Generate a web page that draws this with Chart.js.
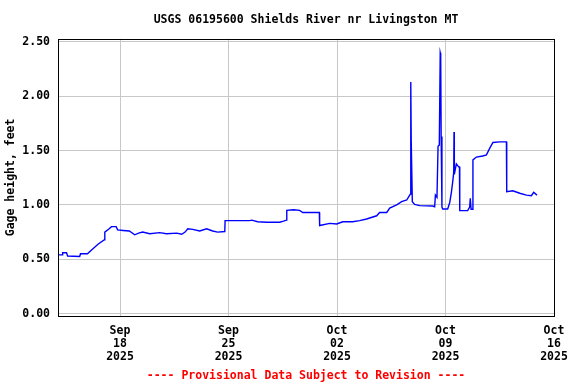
<!DOCTYPE html>
<html>
<head>
<meta charset="utf-8">
<script src="https://cdn.jsdelivr.net/npm/chart.js@4/dist/chart.umd.min.js"></script>
<style>
html,body{margin:0;padding:0;background:#fff;}
canvas{display:block;}
</style>
</head>
<body>
<canvas id="c" width="576" height="384"></canvas>
<script>
// Days since 2025-09-14 00:00 (local station time)
const dayOffsets = [
 0.00,0.28,0.30,0.55,0.62,1.40,1.45,1.90,2.20,2.60,3.00,3.02,3.30,3.45,3.75,3.85,4.20,4.60,4.95,5.20,
 5.46,5.92,6.56,7.00,7.66,7.98,8.20,8.37,8.69,9.14,9.59,9.98,10.30,10.76,10.78,12.37,12.50,12.88,13.47,14.30,
 14.55,14.74,14.76,15.20,15.59,15.79,16.86,16.88,17.53,17.98,18.37,19.01,19.46,19.91,20.56,20.75,21.21,21.40,21.85,22.17,
 22.50,22.69,22.74,22.76,22.79,22.82,22.86,23.01,23.34,24.17,24.30,24.35,24.45,24.52,24.60,24.66,24.69,24.72,24.77,24.82,
 25.14,25.27,25.38,25.48,25.53,25.55,25.57,25.70,25.85,25.90,25.92,26.43,26.56,26.60,26.65,26.71,26.77,26.99,27.40,27.64,
 27.85,28.06,28.50,28.93,28.95,29.34,29.79,30.22,30.54,30.69,30.90
];
const gageHeight = [
 0.54,0.54,0.56,0.56,0.53,0.525,0.55,0.55,0.59,0.64,0.68,0.75,0.78,0.80,0.80,0.77,0.765,0.76,0.725,0.74,
 0.75,0.735,0.745,0.735,0.74,0.73,0.75,0.78,0.775,0.76,0.78,0.76,0.75,0.755,0.855,0.855,0.86,0.845,0.84,0.84,
 0.85,0.86,0.95,0.955,0.95,0.93,0.93,0.81,0.83,0.825,0.845,0.845,0.855,0.87,0.90,0.93,0.93,0.97,1.00,1.03,
 1.045,1.09,1.10,2.13,1.58,1.58,1.03,1.005,0.993,0.99,0.983,1.09,1.07,1.54,1.55,2.40,2.38,1.63,0.98,0.962,
 0.962,1.02,1.116,1.23,1.30,1.67,1.28,1.377,1.35,1.35,0.947,0.947,0.98,1.06,0.96,0.96,1.414,1.44,1.45,1.46,
 1.52,1.574,1.58,1.58,1.122,1.13,1.107,1.09,1.085,1.116,1.09
];
const xTickDays = [4, 11, 18, 25, 32];
const xTickLabels = [["Sep","18","2025"],["Sep","25","2025"],["Oct","02","2025"],["Oct","09","2025"],["Oct","16","2025"]];
const yTicks = [0, 0.5, 1.0, 1.5, 2.0, 2.5];

const FONT = "'DejaVu Sans Mono', 'Liberation Mono', monospace";

const frame = {
  id: 'frame',
  afterDatasetsDraw(chart) {
    const a = chart.chartArea, ctx = chart.ctx;
    const l = Math.round(a.left) + 0.5, t = Math.round(a.top) + 0.5;
    const r = Math.round(a.right) + 0.5, b = Math.round(a.bottom) + 0.5;
    ctx.save();
    ctx.strokeStyle = '#000';
    ctx.lineWidth = 1;
    ctx.strokeRect(l, t, r - l, b - t);
    ctx.restore();
  }
};

new Chart(document.getElementById('c'), {
  type: 'line',
  data: {
    datasets: [{
      data: dayOffsets.map((d, i) => ({x: d, y: gageHeight[i]})),
      borderColor: '#0000ff',
      borderWidth: 1.4,
      pointRadius: 0,
      tension: 0,
      fill: false
    }]
  },
  options: {
    responsive: false,
    devicePixelRatio: 1,
    animation: false,
    layout: {padding: {left: 0, right: 22, top: 0, bottom: 1}},
    plugins: {
      legend: {display: false},
      tooltip: {enabled: false},
      title: {
        display: true,
        text: 'USGS 06195600 Shields River nr Livingston MT',
        fullSize: false,
        color: '#000',
        font: {family: FONT, size: 11.5, weight: 'bold', lineHeight: 1.2},
        padding: {top: 13, bottom: 12}
      },
      subtitle: {
        display: true,
        position: 'bottom',
        text: '---- Provisional Data Subject to Revision ----',
        fullSize: false,
        color: '#ff0000',
        font: {family: FONT, size: 11.5, weight: 'bold', lineHeight: 1.2},
        padding: {top: 8.2, bottom: 0}
      }
    },
    scales: {
      x: {
        type: 'linear',
        min: 0,
        max: 32,
        afterBuildTicks: s => { s.ticks = xTickDays.map(v => ({value: v})); },
        afterFit: s => { s.height = 45; },
        grid: {color: '#c8c8c8', lineWidth: 1, drawTicks: false},
        border: {display: false},
        ticks: {
          color: '#000',
          padding: 8,
          maxRotation: 0,
          autoSkip: false,
          font: {family: FONT, size: 11.5, weight: 'bold', lineHeight: 1.15},
          callback: v => { const i = xTickDays.indexOf(v); return i >= 0 ? xTickLabels[i] : ''; }
        }
      },
      y: {
        type: 'linear',
        min: -0.022,
        max: 2.528,
        afterBuildTicks: s => { s.ticks = yTicks.map(v => ({value: v})); },
        afterFit: s => { s.width = 58; },
        grid: {color: '#c8c8c8', lineWidth: 1, drawTicks: false},
        border: {display: false},
        ticks: {
          color: '#000',
          padding: 8,
          font: {family: FONT, size: 11.5, weight: 'bold'},
          callback: v => Number(v).toFixed(2)
        },
        title: {
          display: true,
          text: 'Gage height, feet',
          color: '#000',
          font: {family: FONT, size: 11.5, weight: 'bold', lineHeight: 1.2},
          padding: {top: 4, bottom: 0}
        }
      }
    }
  },
  plugins: [frame]
});
</script>
</body>
</html>
